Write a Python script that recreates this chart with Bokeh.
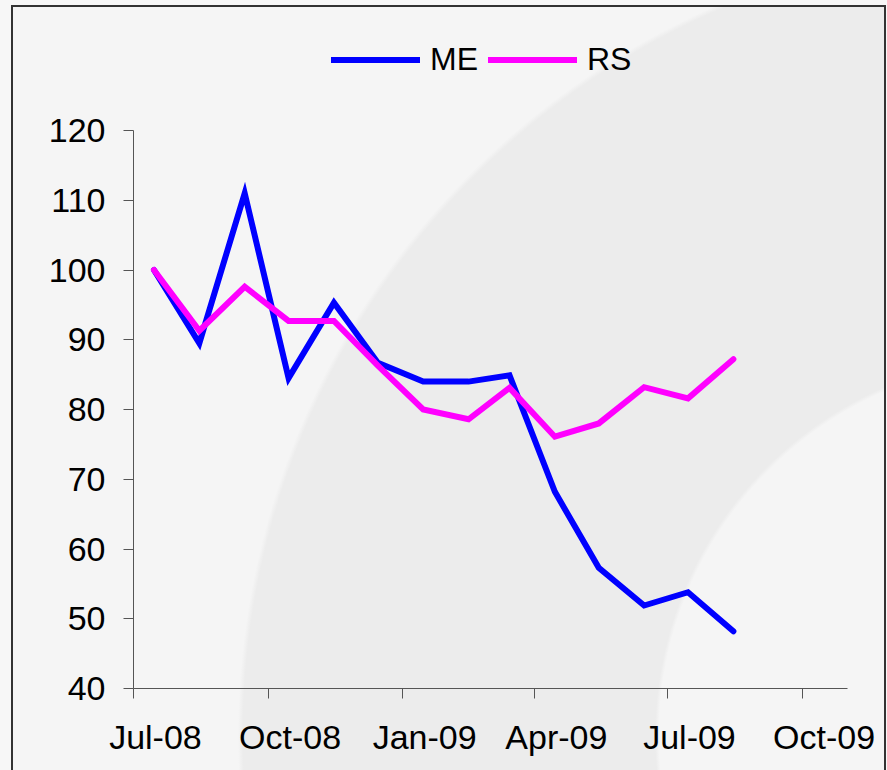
import pandas as pd
from bokeh.plotting import figure
from bokeh.models import Legend, LegendItem, FixedTicker, DatetimeTickFormatter, Range1d
from bokeh.embed import file_html
from bokeh.resources import INLINE

# ---- data ----
months = ["2008-07-15", "2008-08-15", "2008-09-15", "2008-10-15", "2008-11-15",
          "2008-12-15", "2009-01-15", "2009-02-15", "2009-03-15", "2009-04-15",
          "2009-05-15", "2009-06-15", "2009-07-15", "2009-08-15"]
me = [100.0, 89.5, 111.0, 84.5, 95.3, 86.7, 84.0, 84.0, 84.9, 68.2, 57.3, 51.9, 53.8, 48.2]
rs = [100.0, 91.3, 97.6, 92.7, 92.7, 86.3, 80.0, 78.6, 83.1, 76.1, 78.0, 83.2, 81.6, 87.2]
# tick marks at the start of each quarter; labels centred on that month
tick_dates = ["2008-07-01", "2008-10-01", "2009-01-01", "2009-04-01", "2009-07-01", "2009-10-01"]
label_dates = ["2008-07-16", "2008-10-16", "2009-01-16", "2009-04-16", "2009-07-16", "2009-10-16"]
y_ticks = [40, 50, 60, 70, 80, 90, 100, 110, 120]
y_min, y_max = 40, 120
x_start, x_end = "2008-07-01", "2009-11-01"

dates = pd.to_datetime(months)
to_ms = lambda s: pd.Timestamp(s).value / 1e6

W, H = 887, 770
B_LEFT, B_TOP, B_BOTTOM, B_RIGHT = 133, 18, 82, 40
AXIS_PX = 558  # pixel height of the 40..120 axis span
frame_h = H - B_TOP - B_BOTTOM
y_top = y_min + frame_h * (y_max - y_min) / AXIS_PX  # extra room above for legend

p = figure(width=W, height=H, x_axis_type="datetime", output_backend="svg",
           toolbar_location=None,
           x_range=Range1d(pd.Timestamp(x_start), pd.Timestamp(x_end)),
           y_range=Range1d(y_min, y_top),
           min_border_left=B_LEFT, min_border_top=B_TOP,
           min_border_bottom=B_BOTTOM, min_border_right=B_RIGHT)

p.border_fill_color = None
p.background_fill_color = None
p.outline_line_color = None
p.xgrid.visible = False
p.ygrid.visible = False

bg = ("linear-gradient(#333,#333) 11px 5px / 2px 100% no-repeat, "
      "linear-gradient(#333,#333) 11px 5px / 875px 2px no-repeat, "
      "linear-gradient(#333,#333) 884px 5px / 2px 100% no-repeat, "
      "linear-gradient(#f7f7f7,#f7f7f7) 0 0 / 100% 5px no-repeat, "
      "linear-gradient(#f7f7f7,#f7f7f7) 0 0 / 11px 100% no-repeat, "
      "linear-gradient(#f7f7f7,#f7f7f7) 886px 0 / 1px 100% no-repeat, "
      "radial-gradient(circle at 1035px 736px, #f5f5f5 0px, #f5f5f5 376px, #ececec 380px, "
      "#ececec 792px, #f5f5f5 797px)")
p.styles = {"background": bg}

FONT = "Liberation Sans"
for ax in (p.xaxis[0], p.yaxis[0]):
    ax.axis_line_color = "#555555"
    ax.axis_line_width = 1
    ax.major_tick_line_color = "#555555"
    ax.major_tick_in = 0
    ax.major_tick_out = 10
    ax.minor_tick_line_color = None
    ax.major_label_text_font = FONT
    ax.major_label_text_font_size = "34px"
    ax.major_label_text_color = "black"

p.yaxis.ticker = FixedTicker(ticks=y_ticks)
p.yaxis.bounds = (y_min, y_max)
p.yaxis.major_label_standoff = 18

xa = p.xaxis[0]
xa.ticker = FixedTicker(ticks=[to_ms(d) for d in label_dates],
                        minor_ticks=[to_ms(d) for d in tick_dates])
xa.formatter = DatetimeTickFormatter(months="%b-%y", days="%b-%y", years="%b-%y")
xa.major_tick_line_color = None
xa.minor_tick_line_color = "#555555"
xa.minor_tick_in = 0
xa.minor_tick_out = 10
xa.major_label_standoff = 19

r_me = p.line(dates, me, line_color="#0000ff", line_width=6, line_join="miter", line_cap="round")
r_rs = p.line(dates, rs, line_color="#ff00ff", line_width=6, line_join="miter", line_cap="round")

legend = Legend(items=[LegendItem(label="ME", renderers=[r_me]),
                       LegendItem(label="RS", renderers=[r_rs])],
                orientation="horizontal", location=(198, 610),
                glyph_width=89, glyph_height=37, label_height=37,
                label_standoff=10, spacing=10, padding=0, margin=0,
                label_text_font=FONT, label_text_font_size="32px",
                label_text_color="black",
                background_fill_alpha=0, border_line_alpha=0)
p.add_layout(legend, "center")

open("out.html", "w").write(file_html(p, INLINE))
